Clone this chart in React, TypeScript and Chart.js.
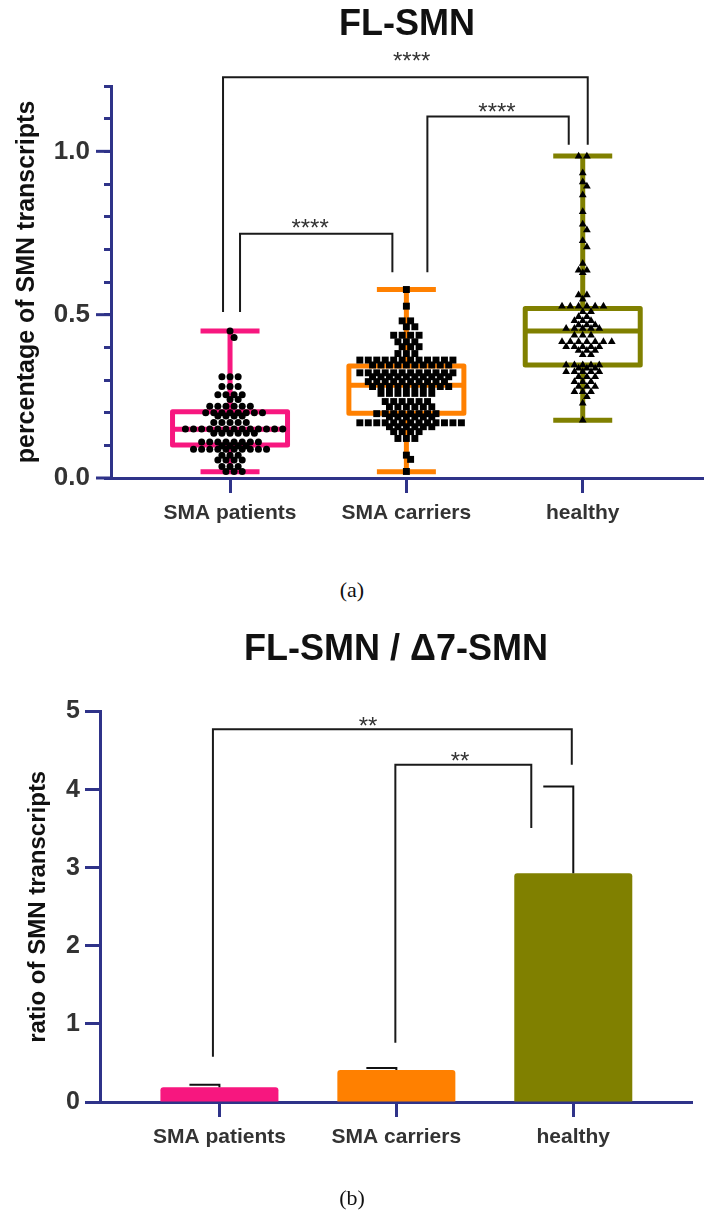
import React, { useEffect, useRef } from 'react';
import { Chart, registerables } from 'chart.js';

Chart.register(...registerables);

// ---------------- data ----------------
const categories = ['SMA patients', 'SMA carriers', 'healthy'];

// (a) FL-SMN percentage, individual points
const patientsFL = [
  0.45,
  0.43,
  0.31, 0.31, 0.31,
  0.28, 0.28, 0.28,
  0.255, 0.255, 0.255, 0.255,
  0.24, 0.24,
  0.22, 0.22, 0.22, 0.22, 0.22, 0.22,
  0.2, 0.2, 0.2, 0.2, 0.2, 0.2, 0.2, 0.2,
  0.19, 0.19, 0.19, 0.19,
  0.17, 0.17, 0.17, 0.17, 0.17,
  0.15, 0.15, 0.15, 0.15, 0.15, 0.15, 0.15, 0.15, 0.15, 0.15, 0.15, 0.15, 0.15,
  0.137, 0.137, 0.137, 0.137, 0.137, 0.137,
  0.11, 0.11, 0.11, 0.11, 0.11, 0.11, 0.11, 0.11,
  0.099, 0.099, 0.099, 0.099,
  0.088, 0.088, 0.088, 0.088, 0.088, 0.088, 0.088, 0.088, 0.088, 0.088,
  0.07, 0.07, 0.07,
  0.055, 0.055, 0.055, 0.055,
  0.035, 0.035, 0.035,
  0.02, 0.02, 0.02,
];

const carriersFL = [
  0.577,
  0.526,
  0.481, 0.481,
  0.463, 0.463,
  0.437, 0.437, 0.437, 0.437,
  0.417, 0.417, 0.417,
  0.402, 0.402, 0.402,
  0.381, 0.381, 0.381,
  0.361, 0.361, 0.361, 0.361, 0.361, 0.361, 0.361, 0.361, 0.361, 0.361, 0.361, 0.361,
  0.346, 0.346, 0.346, 0.346, 0.346, 0.346, 0.346, 0.346, 0.346, 0.346,
  0.322, 0.322, 0.322, 0.322, 0.322, 0.322, 0.322, 0.322, 0.322, 0.322, 0.322, 0.322,
  0.31, 0.31, 0.31, 0.31, 0.31, 0.31, 0.31, 0.31, 0.31, 0.31,
  0.295, 0.295, 0.295, 0.295, 0.295, 0.295, 0.295, 0.295, 0.295, 0.295,
  0.28, 0.28, 0.28, 0.28, 0.28, 0.28, 0.28, 0.28, 0.28, 0.28,
  0.259, 0.259, 0.259, 0.259, 0.259, 0.259, 0.259,
  0.234, 0.234, 0.234, 0.234, 0.234, 0.234,
  0.218, 0.218, 0.218, 0.218, 0.218, 0.218,
  0.197, 0.197, 0.197, 0.197, 0.197, 0.197, 0.197, 0.197,
  0.187, 0.187, 0.187, 0.187, 0.187, 0.187,
  0.169, 0.169, 0.169, 0.169, 0.169, 0.169, 0.169, 0.169, 0.169, 0.169, 0.169, 0.169, 0.169,
  0.157, 0.157, 0.157, 0.157, 0.157, 0.157,
  0.142, 0.142, 0.142, 0.142,
  0.121, 0.121, 0.121,
  0.07,
  0.057,
  0.02,
];

const healthyFL = [
  0.985, 0.985,
  0.934,
  0.906,
  0.893,
  0.866,
  0.815,
  0.777,
  0.759,
  0.726,
  0.707,
  0.657,
  0.636, 0.636,
  0.628,
  0.56, 0.56,
  0.547,
  0.526, 0.526, 0.526, 0.526, 0.526, 0.526,
  0.509, 0.509,
  0.494, 0.494,
  0.481, 0.481, 0.481,
  0.468, 0.468, 0.468,
  0.458, 0.458, 0.458, 0.458, 0.458,
  0.437, 0.437, 0.437,
  0.417, 0.417, 0.417, 0.417, 0.417, 0.417, 0.417,
  0.402, 0.402, 0.402, 0.402, 0.402,
  0.39, 0.39, 0.39,
  0.377, 0.377,
  0.346, 0.346, 0.346, 0.346, 0.346,
  0.336, 0.336, 0.336,
  0.325, 0.325, 0.325, 0.325, 0.325,
  0.31, 0.31, 0.31,
  0.295, 0.295, 0.295,
  0.28, 0.28, 0.28,
  0.264, 0.264, 0.264,
  0.249,
  0.229,
  0.177,
];

// box-and-whisker summaries (min, Q1, median, Q3, max)
const boxMin = [0.019, 0.019, 0.177];
const boxQ1 = [0.101, 0.198, 0.346];
const boxMedian = [0.149, 0.284, 0.45];
const boxQ3 = [0.203, 0.3425, 0.519];
const boxMax = [0.45, 0.577, 0.986];

// y ticks of chart (a): every 0.1, labelled at the major ones
const flTickValues = [0, 0.1, 0.2, 0.3, 0.4, 0.5, 0.6, 0.7, 0.8, 0.9, 1.0, 1.1, 1.2];
const flMajorTicks = [0, 0.5, 1.0];

// significance brackets, chart (a)
const flBrFrom = [0, 0, 1];
const flBrTo = [2, 1, 2];
const flBrLevel = [1.227, 0.748, 1.107];
const flBrLeftEnd = [0.508, 0.508, 0.63];
const flBrRightEnd = [1.02, 0.63, 1.02];
const flBrLabel = ['****', '****', '****'];
const flBrLabelX = [1.03, 0.454, 1.514];
const flBrLabelY = [1.294, 0.784, 1.138];

// (b) FL-SMN / Δ7-SMN ratio
const ratioMeans = [0.19, 0.41, 2.93];
const ratioErrUpper = [0.22, 0.435, 4.04];

const ratioBrFrom = [0, 1];
const ratioBrTo = [2, 2];
const ratioBrLevel = [4.775, 4.32];
const ratioBrLeftEnd = [0.58, 0.76];
const ratioBrRightEnd = [4.32, 3.51];
const ratioBrLabel = ['**', '**'];
const ratioBrLabelX = [0.84, 1.36];
const ratioBrLabelY = [4.894, 4.445];

// ---------------- styles ----------------
const NAVY = '#2f3389';
const TEXT = '#333333';
const FONT = '"Liberation Sans", Arial, sans-serif';
const groupColors = ['#f7177f', '#ff8000', '#808000'];

// bracket leg offsets in pixels from the category centre
const flBrLeftOff = [-7, 10, 21];
const flBrRightOff = [5, -14, -14];
const ratioBrLeftOff = [-6.5, -1];
const ratioBrRightOff = [-1.5, -42];

// beeswarm layout: equal values form a centred row; a row that sits too close
// to the row above it, with coinciding positions, is shifted by half a step.
function swarm(values: number[], center: number, step: number, minGap: number) {
  const counts = new Map<number, number>();
  values.forEach((v) => counts.set(v, (counts.get(v) || 0) + 1));
  const rowVals = Array.from(counts.keys()).sort((a, b) => b - a);
  const shift = new Map<number, number>();
  let prevV: number | null = null;
  let prevN = 0;
  let prevShift = 0;
  rowVals.forEach((v) => {
    const n = counts.get(v) as number;
    let s = 0;
    if (prevV !== null && prevV - v < minGap) {
      const prevHalf = ((prevN - 1) / 2 + prevShift) % 1 !== 0;
      const myHalf = ((n - 1) / 2) % 1 !== 0;
      if (prevHalf === myHalf) s = 0.5;
    }
    shift.set(v, s);
    prevV = v;
    prevN = n;
    prevShift = s;
  });
  const seen = new Map<number, number>();
  return values.map((v) => {
    const n = counts.get(v) as number;
    const k = seen.get(v) || 0;
    seen.set(v, k + 1);
    const s = shift.get(v) as number;
    return { x: center + (k - (n - 1) / 2 + s) * step, y: v };
  });
}

function drawBrackets(
  chart: any,
  from: number[], to: number[], level: number[], leftEnd: number[], rightEnd: number[],
  leftOff: number[], rightOff: number[], labels: string[], labelX: number[], labelY: number[]
) {
  const { ctx } = chart;
  const x = chart.scales.x;
  const y = chart.scales.y;
  ctx.save();
  ctx.strokeStyle = '#1a1a1a';
  ctx.lineWidth = 2;
  ctx.lineJoin = 'miter';
  for (let i = 0; i < from.length; i++) {
    const xl = x.getPixelForValue(from[i]) + leftOff[i];
    const xr = x.getPixelForValue(to[i]) + rightOff[i];
    const yl = y.getPixelForValue(level[i]);
    ctx.beginPath();
    ctx.moveTo(xl, y.getPixelForValue(leftEnd[i]));
    ctx.lineTo(xl, yl);
    ctx.lineTo(xr, yl);
    ctx.lineTo(xr, y.getPixelForValue(rightEnd[i]));
    ctx.stroke();
    const fs = 24;
    ctx.font = `${fs}px ${FONT}`;
    ctx.fillStyle = '#333';
    ctx.textAlign = 'center';
    ctx.textBaseline = 'alphabetic';
    ctx.fillText(labels[i], x.getPixelForValue(labelX[i]), y.getPixelForValue(labelY[i]) + 0.57 * fs);
  }
  ctx.restore();
}

const boxPlugin = {
  id: 'boxPlot',
  beforeDatasetsDraw(chart: any) {
    const { ctx } = chart;
    const x = chart.scales.x;
    const y = chart.scales.y;
    const BOX_W = 115;
    const CAP_W = 59;
    ctx.save();
    ctx.lineWidth = 5;
    ctx.lineJoin = 'round';
    ctx.lineCap = 'butt';
    for (let i = 0; i < categories.length; i++) {
      const cx = x.getPixelForValue(i);
      ctx.strokeStyle = groupColors[i];
      const yMin = y.getPixelForValue(boxMin[i]);
      const yQ1 = y.getPixelForValue(boxQ1[i]);
      const yMed = y.getPixelForValue(boxMedian[i]);
      const yQ3 = y.getPixelForValue(boxQ3[i]);
      const yMax = y.getPixelForValue(boxMax[i]);
      ctx.beginPath();
      ctx.moveTo(cx, yMax); ctx.lineTo(cx, yQ3);
      ctx.moveTo(cx, yQ1); ctx.lineTo(cx, yMin);
      ctx.moveTo(cx - CAP_W / 2, yMax); ctx.lineTo(cx + CAP_W / 2, yMax);
      ctx.moveTo(cx - CAP_W / 2, yMin); ctx.lineTo(cx + CAP_W / 2, yMin);
      ctx.moveTo(cx - BOX_W / 2, yMed); ctx.lineTo(cx + BOX_W / 2, yMed);
      ctx.stroke();
      ctx.beginPath();
      ctx.rect(cx - BOX_W / 2, yQ3, BOX_W, yQ1 - yQ3);
      ctx.stroke();
    }
    ctx.restore();
  },
};

const flDecorPlugin = {
  id: 'flDecor',
  afterDraw(chart: any) {
    const { ctx, chartArea } = chart;
    const y = chart.scales.y;
    ctx.save();
    ctx.strokeStyle = NAVY;
    ctx.lineWidth = 3;
    flMajorTicks.forEach((v) => {
      const py = y.getPixelForValue(v);
      ctx.beginPath();
      ctx.moveTo(chartArea.left - 15, py);
      ctx.lineTo(chartArea.left, py);
      ctx.stroke();
    });
    ctx.restore();
    drawBrackets(chart, flBrFrom, flBrTo, flBrLevel, flBrLeftEnd, flBrRightEnd,
      flBrLeftOff, flBrRightOff, flBrLabel, flBrLabelX, flBrLabelY);
  },
};

const ratioDecorPlugin = {
  id: 'ratioDecor',
  afterDraw(chart: any) {
    const { ctx } = chart;
    const x = chart.scales.x;
    const y = chart.scales.y;
    ctx.save();
    ctx.strokeStyle = '#111';
    ctx.lineWidth = 2;
    for (let i = 0; i < ratioMeans.length; i++) {
      const cx = x.getPixelForValue(i);
      const y0 = y.getPixelForValue(ratioMeans[i]);
      const y1 = y.getPixelForValue(ratioErrUpper[i]);
      ctx.beginPath();
      ctx.moveTo(cx, y0);
      ctx.lineTo(cx, y1);
      ctx.lineTo(cx - 30, y1);
      ctx.stroke();
    }
    ctx.restore();
    drawBrackets(chart, ratioBrFrom, ratioBrTo, ratioBrLevel, ratioBrLeftEnd, ratioBrRightEnd,
      ratioBrLeftOff, ratioBrRightOff, ratioBrLabel, ratioBrLabelX, ratioBrLabelY);
  },
};

function xAxis(height: number, max: number) {
  return {
    type: 'linear' as const,
    min: -0.675,
    max,
    offset: false,
    afterBuildTicks: (s: any) => {
      s.ticks = categories.map((_, i) => ({ value: i }));
    },
    afterFit: (s: any) => {
      s.height = height;
    },
    ticks: {
      callback: (v: any) => categories[Math.round(Number(v))] ?? '',
      autoSkip: false,
      maxRotation: 0,
      padding: 8,
      color: TEXT,
      font: { family: FONT, size: 21, weight: 'bold' as const },
    },
    grid: { offset: false, drawOnChartArea: false, drawTicks: true, tickLength: 15, tickWidth: 3, tickColor: NAVY },
    border: { color: NAVY, width: 3 },
  };
}

export default function App() {
  const topRef = useRef<HTMLCanvasElement | null>(null);
  const botRef = useRef<HTMLCanvasElement | null>(null);

  useEffect(() => {
    const top = new Chart(topRef.current as HTMLCanvasElement, {
      type: 'scatter',
      data: {
        datasets: [
          { data: swarm(patientsFL, 0, 0.046, 0.021), pointStyle: 'circle', pointRadius: 3.5, backgroundColor: '#000', borderColor: '#000', borderWidth: 0 },
          { data: swarm(carriersFL, 1, 0.048, 0.021), pointStyle: 'rect', pointRadius: 4.9, backgroundColor: '#000', borderColor: '#000', borderWidth: 0 },
          { data: swarm(healthyFL, 2, 0.047, 0.021), pointStyle: 'triangle', pointRadius: 4.5, backgroundColor: '#000', borderColor: '#000', borderWidth: 0 },
        ],
      },
      options: {
        animation: false,
        responsive: false,
        events: [],
        layout: { padding: { left: 0, right: 12, top: 0, bottom: 0 } },
        plugins: {
          legend: { display: false },
          tooltip: { enabled: false },
          title: {
            display: true,
            text: 'FL-SMN',
            fullSize: false,
            color: '#111',
            font: { family: FONT, size: 36, weight: 'bold' },
            padding: { top: 3, bottom: 39.8 },
          },
        },
        scales: {
          x: xAxis(82, 2.682) as any,
          y: {
            min: 0,
            max: 1.2,
            afterFit: (s: any) => {
              s.width = 111;
            },
            afterBuildTicks: (s: any) => {
              s.ticks = flTickValues.map((v) => ({ value: v }));
            },
            ticks: {
              padding: 14,
              autoSkip: false,
              color: TEXT,
              font: { family: FONT, size: 26, weight: 'bold' },
              callback: (v: any) =>
                flMajorTicks.some((m) => Math.abs(m - Number(v)) < 1e-6) ? Number(v).toFixed(1) : '',
            },
            grid: { drawOnChartArea: false, drawTicks: true, tickLength: 7, tickWidth: 3, tickColor: NAVY },
            border: { color: NAVY, width: 3 },
            title: {
              display: true,
              text: 'percentage of SMN transcripts',
              color: '#111',
              font: { family: FONT, size: 25, weight: 'bold' },
              padding: { top: 12, bottom: 0 },
            },
          },
        },
      },
      plugins: [boxPlugin, flDecorPlugin],
    });

    const bot = new Chart(botRef.current as HTMLCanvasElement, {
      type: 'bar',
      data: {
        datasets: [
          {
            data: ratioMeans.map((v, i) => ({ x: i, y: v })),
            backgroundColor: groupColors,
            borderWidth: 0,
            borderRadius: { topLeft: 3, topRight: 3, bottomLeft: 0, bottomRight: 0 },
            borderSkipped: false,
            barPercentage: 0.667,
            categoryPercentage: 1,
          },
        ],
      },
      options: {
        animation: false,
        responsive: false,
        events: [],
        layout: { padding: { left: 0, right: 23, top: 0, bottom: 0 } },
        plugins: {
          legend: { display: false },
          tooltip: { enabled: false },
          title: {
            display: true,
            text: 'FL-SMN / Δ7-SMN',
            fullSize: false,
            color: '#111',
            font: { family: FONT, size: 36, weight: 'bold' },
            padding: { top: 28, bottom: 40.4 },
          },
        },
        scales: {
          x: xAxis(118, 2.671) as any,
          y: {
            min: 0,
            max: 5,
            afterFit: (s: any) => {
              s.width = 100;
            },
            ticks: {
              stepSize: 1,
              padding: 5,
              color: TEXT,
              font: { family: FONT, size: 25, weight: 'bold' },
            },
            grid: { drawOnChartArea: false, drawTicks: true, tickLength: 15, tickWidth: 3, tickColor: NAVY },
            border: { color: NAVY, width: 3 },
            title: {
              display: true,
              text: 'ratio of SMN transcripts',
              color: '#111',
              font: { family: FONT, size: 24, weight: 'bold' },
              padding: { top: 24, bottom: 0 },
            },
          },
        },
      },
      plugins: [ratioDecorPlugin],
    });

    return () => {
      top.destroy();
      bot.destroy();
    };
  }, []);

  const caption: React.CSSProperties = {
    position: 'absolute',
    left: 0,
    width: 704,
    textAlign: 'center',
    fontFamily: '"Liberation Serif", "DejaVu Serif", serif',
    fontSize: 22,
    lineHeight: '26px',
    color: '#111',
  };

  return (
    <div style={{ position: 'absolute', left: 0, top: 0, width: 715, height: 1220, background: '#fff', overflow: 'hidden' }}>
      <canvas ref={topRef} width={715} height={560} style={{ position: 'absolute', left: 0, top: 0 }} />
      <div style={{ ...caption, top: 577 }}>(a)</div>
      <canvas ref={botRef} width={715} height={620} style={{ position: 'absolute', left: 0, top: 600 }} />
      <div style={{ ...caption, top: 1185 }}>(b)</div>
    </div>
  );
}
